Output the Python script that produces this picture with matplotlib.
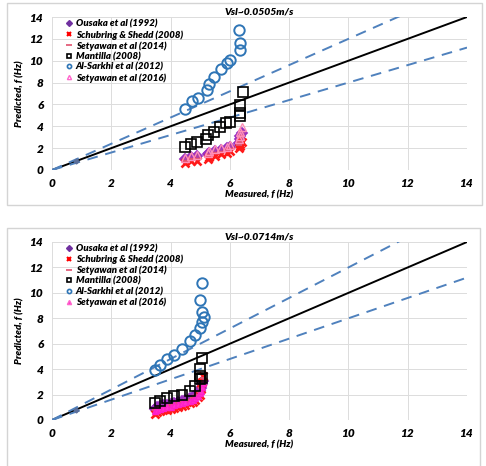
import matplotlib
matplotlib.use("Agg")
from matplotlib import pyplot as plt
from matplotlib.patches import Rectangle
from matplotlib.lines import Line2D

plt.rcParams['font.family'] = ['Lato', 'DejaVu Sans']

# ---- panel 1 : Vsl~0.0505 m/s ----
top_title = "Vsl~0.0505m/s"
top_sarkhi_x = [4.49, 4.72, 4.91, 5.23, 5.3, 5.48, 5.7, 5.9, 6.0, 6.32, 6.33, 6.35]
top_sarkhi_y = [5.6, 6.3, 6.6, 7.3, 7.9, 8.5, 9.2, 9.8, 10.1, 12.8, 11.0, 11.6]
top_mantilla_x = [4.49, 4.68, 4.88, 5.2, 5.27, 5.46, 5.66, 5.87, 6.0, 6.33, 6.33, 6.35, 6.44]
top_mantilla_y = [2.1, 2.4, 2.6, 2.8, 3.2, 3.5, 3.9, 4.3, 4.4, 4.9, 5.2, 5.95, 7.1]
top_x = [4.5, 4.7, 4.9, 5.25, 5.3, 5.5, 5.7, 5.9, 6.0, 6.32, 6.33, 6.35, 6.4]
top_ousaka_y = [1.0, 1.2, 1.25, 1.45, 1.6, 1.75, 1.85, 2.0, 2.15, 2.5, 2.8, 3.1, 3.35]
top_schubring_y = [0.6, 0.8, 0.85, 1.05, 1.2, 1.3, 1.45, 1.6, 1.75, 2.0, 2.2, 2.4, 2.6]
top_set2014_y = [0.85, 1.0, 1.05, 1.3, 1.4, 1.55, 1.65, 1.8, 1.95, 2.3, 2.6, 2.9, 3.1]
top_set2016_y = [1.1, 1.3, 1.35, 1.6, 1.75, 1.9, 2.0, 2.15, 2.3, 2.8, 3.1, 3.5, 3.9]

# ---- panel 2 : Vsl~0.0714 m/s ----
bot_title = "Vsl~0.0714m/s"
bot_sarkhi_x = [3.46, 3.65, 3.87, 4.1, 4.38, 4.64, 4.83, 5.0, 5.06, 5.12, 5.06, 4.98, 5.06]
bot_sarkhi_y = [3.9, 4.3, 4.8, 5.1, 5.6, 6.2, 6.7, 7.2, 7.7, 8.1, 8.5, 9.4, 10.8]
bot_mantilla_x = [3.46, 3.65, 3.87, 4.1, 4.38, 4.67, 4.83, 4.98, 5.0, 5.06, 5.0, 5.06]
bot_mantilla_y = [1.3, 1.5, 1.7, 1.9, 2.0, 2.3, 2.7, 3.2, 3.5, 3.3, 4.0, 4.85]
bot_x = [3.46, 3.55, 3.65, 3.75, 3.87, 4.0, 4.1, 4.25, 4.38, 4.5, 4.64, 4.75, 4.83, 4.92, 4.98, 5.03, 5.06, 5.08]
bot_ousaka_y = [0.9, 1.0, 1.1, 1.15, 1.2, 1.25, 1.35, 1.45, 1.5, 1.6, 1.7, 1.8, 1.95, 2.1, 2.3, 2.5, 2.8, 3.1]
bot_schubring_y = [0.5, 0.6, 0.7, 0.75, 0.8, 0.85, 0.95, 1.05, 1.1, 1.2, 1.3, 1.45, 1.6, 1.8, 2.0, 2.4, 3.0, 3.5]
bot_set2014_y = [0.8, 0.9, 1.0, 1.05, 1.1, 1.15, 1.25, 1.35, 1.4, 1.5, 1.6, 1.7, 1.85, 2.0, 2.2, 2.5, 2.9, 3.3]
bot_set2016_y = [0.7, 0.8, 0.9, 0.95, 1.0, 1.05, 1.15, 1.25, 1.3, 1.4, 1.5, 1.6, 1.75, 1.9, 2.1, 2.3, 2.6, 2.9]

labels = ["Ousaka et al (1992)", "Schubring & Shedd (2008)", "Setyawan et al (2014)",
          "Mantilla (2008)", "Al-Sarkhi et al (2012)", "Setyawan et al (2016)"]
ticks = [0, 2, 4, 6, 8, 10, 12, 14]
ref_x = [0, 14]
ref_pt = [0.8]

FONT = dict(fontweight='heavy', fontstyle='italic')
BLUE = '#2e75b6'
DASH = '#4f81bd'


def draw_panel(ax, title, sx, sy, mx, my, x, oy, scy, s14y, s16y, filled16):
    ax.plot(ref_x, ref_x, color='black', lw=1.4, zorder=2)
    ax.plot(ref_x, [v * 1.2 for v in ref_x], color=DASH, lw=1.4, ls=(0, (5.5, 4)), zorder=2)
    ax.plot(ref_x, [v * 0.8 for v in ref_x], color=DASH, lw=1.4, ls=(0, (5.5, 4)), zorder=2)
    ax.plot(ref_pt, ref_pt, ls='none', marker='D', ms=2.5, color='#5a6e9a', zorder=3)

    ax.plot(x, oy, ls='none', marker='D', ms=5.5, mfc='#b13fa8', mec='#9a2fc0', mew=1.3, zorder=4)
    ax.plot(x, scy, ls='none', marker='x', ms=5.5, color='#ff1a1a', mew=1.9, zorder=5)
    ax.plot(x, s14y, ls='none', marker='_', ms=5, color='#e0506e', mew=1.5, zorder=5)
    if filled16:
        ax.plot(x, s16y, ls='none', marker='^', ms=5, mfc='#ff33cc', mec='#ff1fc8', mew=1, zorder=6)
    else:
        ax.plot(x, s16y, ls='none', marker='^', ms=5.5, mfc='none', mec='#ff8fb8', mew=1, zorder=6)
    ax.plot(mx, my, ls='none', marker='s', ms=7, mfc='none', mec='black', mew=1.2, zorder=6)
    ax.plot(sx, sy, ls='none', marker='o', ms=7.5, mfc='none', mec=BLUE, mew=1.4, zorder=6)

    ax.set_xlim(0, 14)
    ax.set_ylim(0, 14)
    ax.set_xticks(ticks)
    ax.set_yticks(ticks)
    ax.grid(True, color='#dcdcdc', lw=0.7)
    ax.set_axisbelow(True)
    for s in ax.spines.values():
        s.set_visible(False)
    ax.tick_params(length=0, labelsize=8.5, pad=6)
    for t in ax.get_xticklabels() + ax.get_yticklabels():
        t.set_fontweight('heavy')
        t.set_fontstyle('italic')
    ax.set_xlabel("Measured, f (Hz)", fontsize=7, labelpad=1, **FONT)
    ax.set_ylabel("Predicted, f (Hz)", fontsize=7, labelpad=4, **FONT)
    ax.set_title(title, fontsize=7.5, pad=2, **FONT)

    handles = [
        Line2D([], [], ls='none', marker='D', ms=3, mfc='#7030a0', mec='#7030a0'),
        Line2D([], [], ls='none', marker='x', ms=3, color='#ff0000', mew=1.5),
        Line2D([], [], ls='none', marker='_', ms=4, color='#e0506e', mew=1.2),
        Line2D([], [], ls='none', marker='s', ms=3, mfc='none', mec='black', mew=1.2),
        Line2D([], [], ls='none', marker='o', ms=3, mfc='none', mec=BLUE, mew=1.2),
        Line2D([], [], ls='none', marker='^', ms=3,
               mfc='#ff33cc' if filled16 else 'none', mec='#ff66cc'),
    ]
    leg = ax.legend(handles, labels, loc='upper left', bbox_to_anchor=(0.02, 1.02),
                    frameon=False, handlelength=0.6, handletextpad=0.4,
                    labelspacing=0.15, borderaxespad=0.2,
                    prop=dict(family=['Lato', 'DejaVu Sans'], size=6.9,
                              weight='heavy', style='italic'))
    leg.set_zorder(10)


fig = plt.figure(figsize=(4.86, 4.66), dpi=100)
fig.patches.append(Rectangle((7 / 486, 1 - 205 / 466), 475 / 486, 202 / 466,
                             transform=fig.transFigure, fill=False, ec='#d4d4d4', lw=1))
fig.patches.append(Rectangle((7 / 486, -0.01), 473 / 486, 1 - 228 / 466 + 0.01,
                             transform=fig.transFigure, fill=False, ec='#d4d4d4', lw=1))

ax1 = fig.add_axes([52 / 486, 1 - 170 / 466, 415 / 486, 153 / 466])
ax2 = fig.add_axes([52 / 486, 1 - 420 / 466, 415 / 486, 178 / 466])

draw_panel(ax1, top_title, top_sarkhi_x, top_sarkhi_y, top_mantilla_x, top_mantilla_y,
           top_x, top_ousaka_y, top_schubring_y, top_set2014_y, top_set2016_y, False)
draw_panel(ax2, bot_title, bot_sarkhi_x, bot_sarkhi_y, bot_mantilla_x, bot_mantilla_y,
           bot_x, bot_ousaka_y, bot_schubring_y, bot_set2014_y, bot_set2016_y, True)

fig.savefig("out.png", dpi=100)
